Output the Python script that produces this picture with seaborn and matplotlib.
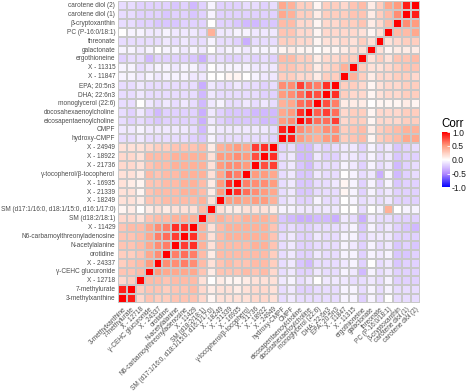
import numpy as np
import pandas as pd
import seaborn as sns
import matplotlib.pyplot as plt
from matplotlib.colors import LinearSegmentedColormap

plt.rcParams['font.family'] = ['Liberation Sans', 'DejaVu Sans']

# variables in x-axis order (left to right) = y-axis order (bottom to top)
group_a = ['3-methylxanthine', '7-methylurate', 'X - 12718', 'γ-CEHC glucuronide',
           'X - 24337', 'orotidine', 'N-acetylalanine', 'N6-carbamoylthreonyladenosine',
           'X - 11429', 'SM (d18:2/18:1)', 'SM (d17:1/16:0, d18:1/15:0, d16:1/17:0)',
           'X - 18249', 'X - 21339', 'X - 16935', 'γ-tocopherol/β-tocopherol',
           'X - 21736', 'X - 18922', 'X - 24949']
group_b = ['hydroxy-CMPF', 'CMPF', 'eicosapentaenoylcholine', 'docosahexaenoylcholine',
           'monoglycerol (22:6)', 'DHA; 22:6n3', 'EPA; 20:5n3', 'X - 11847', 'X - 11315',
           'ergothioneine', 'galactonate', 'threonate', 'PC (P-16:0/18:1)',
           'β-cryptoxanthin', 'carotene diol (1)', 'carotene diol (2)']

# lower triangle, group A vs group A (row i, columns 0..i-1)
block_aa = [
    [],
    [0.9],
    [0.2, 0.25],
    [0.3, 0.3, 0.35],
    [0.25, 0.3, 0.35, 0.5],
    [0.25, 0.25, 0.3, 0.45, 0.55],
    [0.3, 0.3, 0.35, 0.45, 0.55, 0.6],
    [0.3, 0.3, 0.35, 0.45, 0.6, 0.65, 0.8],
    [0.3, 0.35, 0.35, 0.45, 0.55, 0.6, 0.85, 0.85],
    [0.2, 0.2, 0.15, 0.3, 0.35, 0.35, 0.4, 0.4, 0.4],
    [0.05, 0.1, 0.0, 0.1, 0.15, 0.1, 0.15, 0.15, 0.15, 0.35],
    [0.15, 0.15, 0.1, 0.3, 0.3, 0.35, 0.35, 0.35, 0.35, 0.4, 0.15],
    [0.15, 0.15, 0.05, 0.3, 0.35, 0.35, 0.35, 0.4, 0.4, 0.35, 0.1, 0.5],
    [0.15, 0.1, 0.05, 0.3, 0.3, 0.35, 0.35, 0.4, 0.4, 0.35, 0.1, 0.5, 0.85],
    [0.15, 0.15, 0.1, 0.35, 0.3, 0.35, 0.35, 0.4, 0.4, 0.4, 0.15, 0.45, 0.65, 0.6],
    [0.2, 0.2, 0.15, 0.3, 0.35, 0.35, 0.4, 0.4, 0.4, 0.4, 0.15, 0.5, 0.55, 0.55, 0.5],
    [0.2, 0.2, 0.15, 0.35, 0.35, 0.35, 0.4, 0.4, 0.4, 0.4, 0.15, 0.5, 0.5, 0.55, 0.5, 0.75],
    [0.15, 0.15, 0.15, 0.2, 0.25, 0.25, 0.3, 0.3, 0.3, 0.35, 0.1, 0.4, 0.45, 0.5, 0.45, 0.8, 0.85],
]

# group B rows vs group A columns
block_ba = [
    [-0.15, -0.15, -0.1, -0.15, -0.15, -0.15, -0.15, -0.15, -0.2, -0.25, -0.05, -0.15, -0.15, -0.15, -0.15, -0.15, -0.15, -0.2],
    [-0.1, -0.1, -0.05, -0.1, -0.1, -0.1, -0.1, -0.1, -0.15, -0.3, -0.05, -0.1, -0.1, -0.1, -0.1, -0.1, -0.1, -0.15],
    [-0.15, -0.2, -0.15, -0.2, -0.25, -0.2, -0.2, -0.2, -0.2, -0.35, -0.1, -0.2, -0.25, -0.25, -0.25, -0.25, -0.3, -0.3],
    [-0.15, -0.2, -0.1, -0.2, -0.3, -0.2, -0.2, -0.2, -0.2, -0.35, -0.1, -0.2, -0.25, -0.25, -0.25, -0.3, -0.3, -0.3],
    [-0.15, -0.15, 0.0, -0.1, -0.15, -0.1, -0.15, -0.1, -0.15, -0.3, -0.1, -0.05, -0.15, -0.15, -0.1, -0.15, -0.1, -0.15],
    [-0.15, -0.15, -0.1, -0.15, -0.15, -0.15, -0.15, -0.15, -0.15, -0.3, -0.1, -0.15, -0.15, -0.15, -0.15, -0.15, -0.2, -0.2],
    [-0.15, -0.15, -0.1, -0.15, -0.15, -0.15, -0.15, -0.15, -0.15, -0.35, -0.1, -0.15, -0.15, -0.1, -0.15, -0.15, -0.2, -0.15],
    [-0.05, -0.05, -0.1, -0.05, -0.1, -0.05, -0.05, -0.05, -0.1, -0.1, 0.0, 0.0, 0.05, 0.05, 0.0, -0.05, -0.1, -0.1],
    [-0.05, -0.05, -0.15, -0.1, -0.05, -0.05, -0.1, -0.05, -0.05, -0.15, 0.0, -0.05, -0.05, -0.05, -0.05, -0.1, -0.1, -0.1],
    [-0.2, -0.15, -0.15, -0.3, -0.2, -0.2, -0.2, -0.2, -0.25, -0.35, -0.15, -0.15, -0.2, -0.2, -0.15, -0.2, -0.15, -0.2],
    [-0.05, -0.05, -0.1, -0.05, 0.0, -0.05, -0.05, -0.1, -0.05, -0.1, 0.0, -0.1, -0.05, -0.05, -0.1, -0.05, -0.05, -0.05],
    [-0.15, -0.15, -0.15, -0.15, -0.15, -0.1, -0.15, -0.1, -0.15, -0.15, -0.05, -0.15, -0.15, -0.2, -0.35, -0.15, -0.15, -0.15],
    [0.0, -0.05, -0.05, -0.1, -0.1, -0.05, -0.1, -0.1, -0.1, -0.15, 0.4, -0.1, -0.1, -0.05, -0.05, -0.1, -0.1, -0.1],
    [-0.15, -0.15, -0.2, -0.2, -0.25, -0.25, -0.25, -0.2, -0.2, -0.2, 0.0, -0.2, -0.2, -0.25, -0.3, -0.3, -0.25, -0.25],
    [-0.15, -0.15, -0.2, -0.2, -0.2, -0.25, -0.2, -0.2, -0.25, -0.2, -0.05, -0.2, -0.2, -0.2, -0.2, -0.2, -0.2, -0.2],
    [-0.15, -0.15, -0.2, -0.2, -0.2, -0.2, -0.25, -0.2, -0.3, -0.2, -0.05, -0.2, -0.2, -0.2, -0.15, -0.15, -0.2, -0.15],
]

# lower triangle, group B vs group B
block_bb = [
    [],
    [0.9],
    [0.5, 0.55],
    [0.45, 0.5, 0.85],
    [0.4, 0.45, 0.65, 0.7],
    [0.5, 0.55, 0.65, 0.8, 0.75],
    [0.55, 0.55, 0.8, 0.65, 0.6, 0.85],
    [0.25, 0.25, 0.2, 0.2, 0.1, 0.25, 0.25],
    [0.3, 0.3, 0.25, 0.25, 0.1, 0.2, 0.25, 0.4],
    [0.35, 0.35, 0.25, 0.25, 0.1, 0.2, 0.2, 0.25, 0.25],
    [0.05, 0.1, 0.05, 0.05, 0.0, 0.05, 0.05, 0.1, 0.15, 0.15],
    [0.25, 0.25, 0.2, 0.2, 0.05, 0.15, 0.15, 0.2, 0.15, 0.25, 0.15],
    [0.3, 0.3, 0.2, 0.2, 0.05, 0.2, 0.2, 0.2, 0.2, 0.15, 0.05, 0.15],
    [0.35, 0.35, 0.2, 0.2, 0.05, 0.2, 0.2, 0.25, 0.25, 0.3, 0.1, 0.2, 0.35],
    [0.45, 0.4, 0.25, 0.25, 0.1, 0.25, 0.25, 0.25, 0.3, 0.3, 0.1, 0.25, 0.35, 0.55],
    [0.45, 0.4, 0.25, 0.25, 0.05, 0.25, 0.25, 0.2, 0.3, 0.35, 0.1, 0.25, 0.45, 0.5, 0.9],
]

names = group_a + group_b
n = len(names)
na = len(group_a)
corr = np.eye(n)
for i, row in enumerate(block_aa):
    corr[i, :i] = row
for k, row in enumerate(block_ba):
    corr[na + k, :na] = row
for k, row in enumerate(block_bb):
    corr[na + k, na:na + k] = row
corr = np.tril(corr) + np.tril(corr, -1).T

df = pd.DataFrame(corr, index=names, columns=names).iloc[::-1]

# blue-white-red, roughly as ggplot's Lab gradient
cmap = LinearSegmentedColormap.from_list(
    'corr', [(0, '#0000FF'), (0.25, '#B38BFF'), (0.5, '#FFFFFF'),
             (0.75, '#FF9E81'), (1, '#FF0000')])

fig = plt.figure(figsize=(4.74, 3.92), dpi=100)
ax = fig.add_axes([0.249, 0.227, 0.637, 0.770])
cax = fig.add_axes([0.932, 0.522, 0.017, 0.141])

sns.heatmap(df, ax=ax, cbar_ax=cax, cmap=cmap, vmin=-1, vmax=1,
            linewidths=0.25, linecolor='#c8c8c8', square=False,
            xticklabels=True, yticklabels=True,
            cbar_kws={'ticks': [-1, -0.5, 0, 0.5, 1]})

ax.tick_params(length=0, labelsize=4.7, labelcolor='#4D4D4D', pad=2)
ax.set_xticklabels(df.columns, rotation=45, ha='right', rotation_mode='anchor')
ax.set_yticklabels(df.index, rotation=0)
ax.set_xlabel('')
ax.set_ylabel('')

cbar = ax.collections[0].colorbar
cbar.outline.set_visible(False)
cbar.ax.tick_params(length=2, color='white', width=0.6, direction='in',
                    labelsize=6.2, labelcolor='#1A1A1A', pad=1.5)
cbar.ax.set_yticklabels(['-1.0', '-0.5', '0.0', '0.5', '1.0'])
cbar.ax.set_title('Corr', fontsize=8.3, loc='left', pad=4, x=-0.1)

fig.savefig('out.png', dpi=100)
